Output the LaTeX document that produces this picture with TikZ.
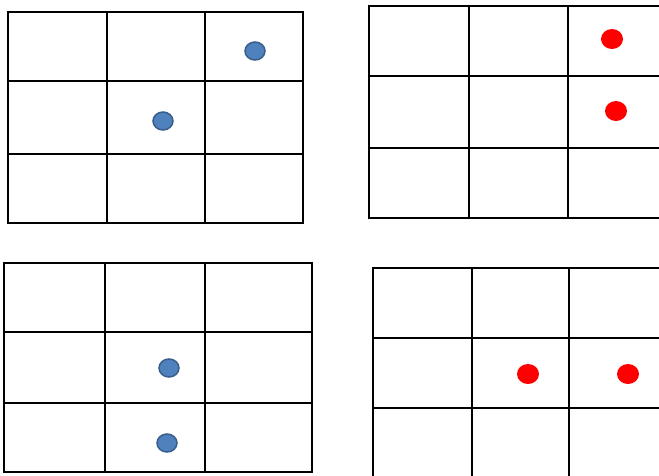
\documentclass[tikz,border=0pt]{standalone}
\usetikzlibrary{shapes.geometric}
\definecolor{dotblue}{RGB}{79, 129, 189}
\definecolor{dotrim}{RGB}{56, 93, 138}

\begin{document}
\begin{tikzpicture}[x=1pt, y=-1pt,
                gridline/.style={draw=black, line width=1.4pt},
                bluedot/.style={ellipse, draw=dotrim, line width=1.5pt, fill=dotblue,
                    minimum width=20pt, minimum height=18pt, inner sep=0pt},
                reddot/.style={ellipse, fill=red,
                    minimum width=22pt, minimum height=20pt, inner sep=0pt}
            ]
            \useasboundingbox (0,0) rectangle (659,475);
            \clip (0,0) rectangle (659,475);

            % top left grid
            \draw[gridline] (8,12) rectangle (303,223);
            \draw[gridline] (107,12) -- (107,223) (205,12) -- (205,223)
                (8,81) -- (303,81) (8,154) -- (303,154);
            \node[bluedot] (tl1) at (255,51) {};
            \node[bluedot] (tl2) at (163,121) {};

            % top right grid
            \draw[gridline] (369,6) rectangle (668,218);
            \draw[gridline] (469,6) -- (469,218) (568,6) -- (568,218)
                (369,76) -- (668,76) (369,148) -- (668,148);
            \node[reddot] (tr1) at (612,39) {};
            \node[reddot] (tr2) at (616,111) {};

            % bottom left grid
            \draw[gridline] (4,263) rectangle (312,472);
            \draw[gridline] (105,263) -- (105,472) (205,263) -- (205,472)
                (4,332) -- (312,332) (4,403) -- (312,403);
            \node[bluedot] (bl1) at (169,368) {};
            \node[bluedot] (bl2) at (167,443) {};

            % bottom right grid
            \draw[gridline] (373,268) rectangle (670,480);
            \draw[gridline] (472,268) -- (472,480) (569,268) -- (569,480)
                (373,338) -- (670,338) (373,408) -- (670,408);
            \node[reddot] (br1) at (528,374) {};
            \node[reddot] (br2) at (628,374) {};

            \end{tikzpicture}
\end{document}
